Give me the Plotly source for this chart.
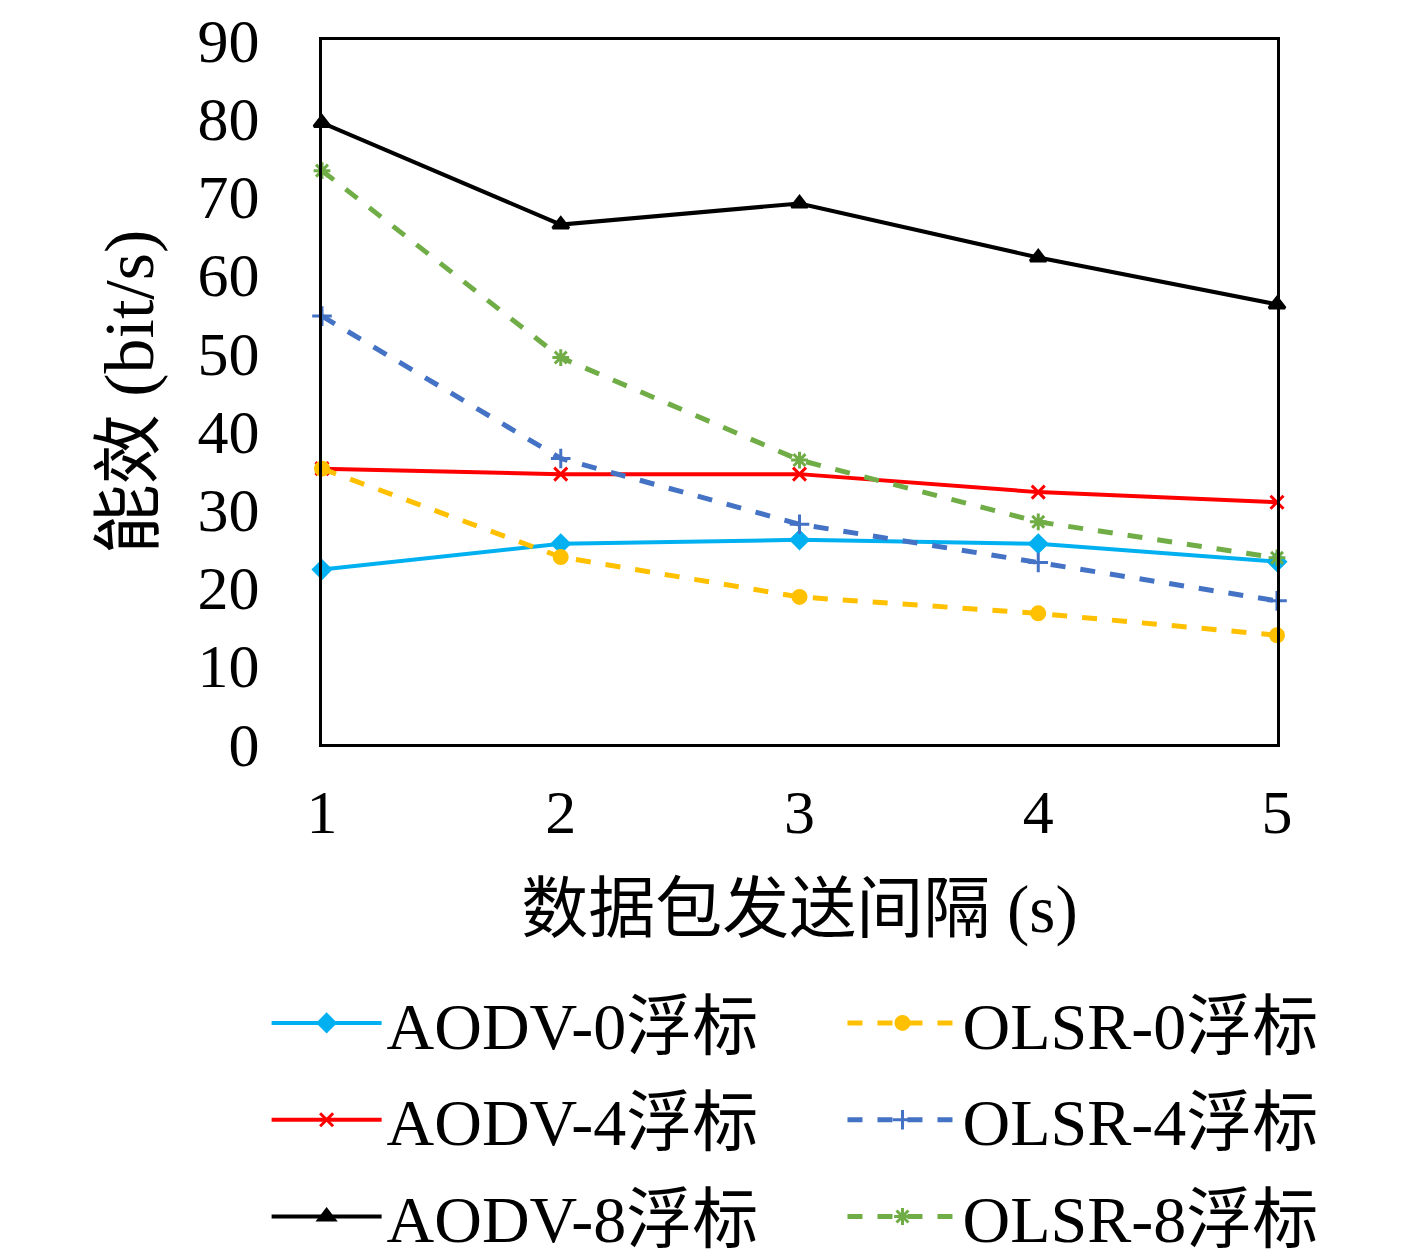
import plotly.graph_objects as go

# Data
interval = [1, 2, 3, 4, 5]
aodv_0 = [22.3, 25.6, 26.1, 25.6, 23.3]
aodv_4 = [35.2, 34.5, 34.5, 32.2, 30.9]
aodv_8 = [79.4, 66.4, 69.1, 62.2, 56.2]
olsr_0 = [35.2, 23.9, 18.8, 16.7, 13.9]
olsr_4 = [54.7, 36.5, 28.1, 23.2, 18.3]
olsr_8 = [73.3, 49.4, 36.3, 28.4, 23.8]

FONT = "Liberation Serif, DejaVu Serif, Noto Sans CJK SC"

series = [
    # name, values, colour, dash, marker, marker size, legend
    ("AODV-0浮标", aodv_0, "#00b0f0", "solid", "diamond", 13, "legend"),
    ("AODV-4浮标", aodv_4, "#ff0000", "solid", "x-thin-open", 13, "legend"),
    ("AODV-8浮标", aodv_8, "#000000", "solid", "triangle-up", 14, "legend"),
    ("OLSR-0浮标", olsr_0, "#ffc000", "dash", "circle", 13, "legend2"),
    ("OLSR-4浮标", olsr_4, "#4472c4", "dash", "cross-thin-open", 14, "legend2"),
    ("OLSR-8浮标", olsr_8, "#70ad47", "dash", "asterisk-open", 14, "legend2"),
]

fig = go.Figure()
for name, vals, col, dash, sym, size, leg in series:
    fig.add_trace(go.Scatter(
        x=interval, y=vals, name=name, mode="lines+markers",
        line=dict(color=col, width=4 if dash == "solid" else 5, dash=dash),
        marker=dict(symbol=sym, size=size, color=col,
                    line=dict(color=col, width=3)),
        legend=leg, legendgroup=name, cliponaxis=False,
    ))

legend_style = dict(
    font=dict(family=FONT, size=66, color="#000000"),
    bgcolor="rgba(0,0,0,0)", tracegroupgap=8,
    xanchor="left", yanchor="top", itemwidth=110,
)

# the page adds a small body margin, so the figure is laid out a bit up/left
fig.update_layout(
    width=1417, height=1256,
    paper_bgcolor="#ffffff", plot_bgcolor="#ffffff",
    margin=dict(l=314, r=148, t=32, b=520, autoexpand=False),
    font=dict(family=FONT, size=60, color="#000000"),
    xaxis=dict(
        range=[1, 5], tickvals=interval, showgrid=False, zeroline=False,
        showline=True, linecolor="#000000", linewidth=3, mirror=True,
        ticks="", ticklabelstandoff=12, automargin=False,
        ticklabeloverflow="allow",
        tickfont=dict(family=FONT, size=62),
        title=dict(text="数据包发送间隔 (s)", standoff=40,
                   font=dict(family=FONT, size=67)),
    ),
    yaxis=dict(
        range=[0, 90], dtick=10, showgrid=False, zeroline=False,
        showline=True, linecolor="#000000", linewidth=3, mirror=True,
        ticks="", ticklabelstandoff=47, automargin=False,
        ticklabeloverflow="allow",
        tickfont=dict(family=FONT, size=62),
        title=dict(text="能效 (bit/s)", standoff=22,
                   font=dict(family=FONT, size=70)),
    ),
    legend=dict(x=-0.058, y=-0.326, **legend_style),
    legend2=dict(x=0.545, y=-0.326, **legend_style),
)

fig.write_html("out.html")
